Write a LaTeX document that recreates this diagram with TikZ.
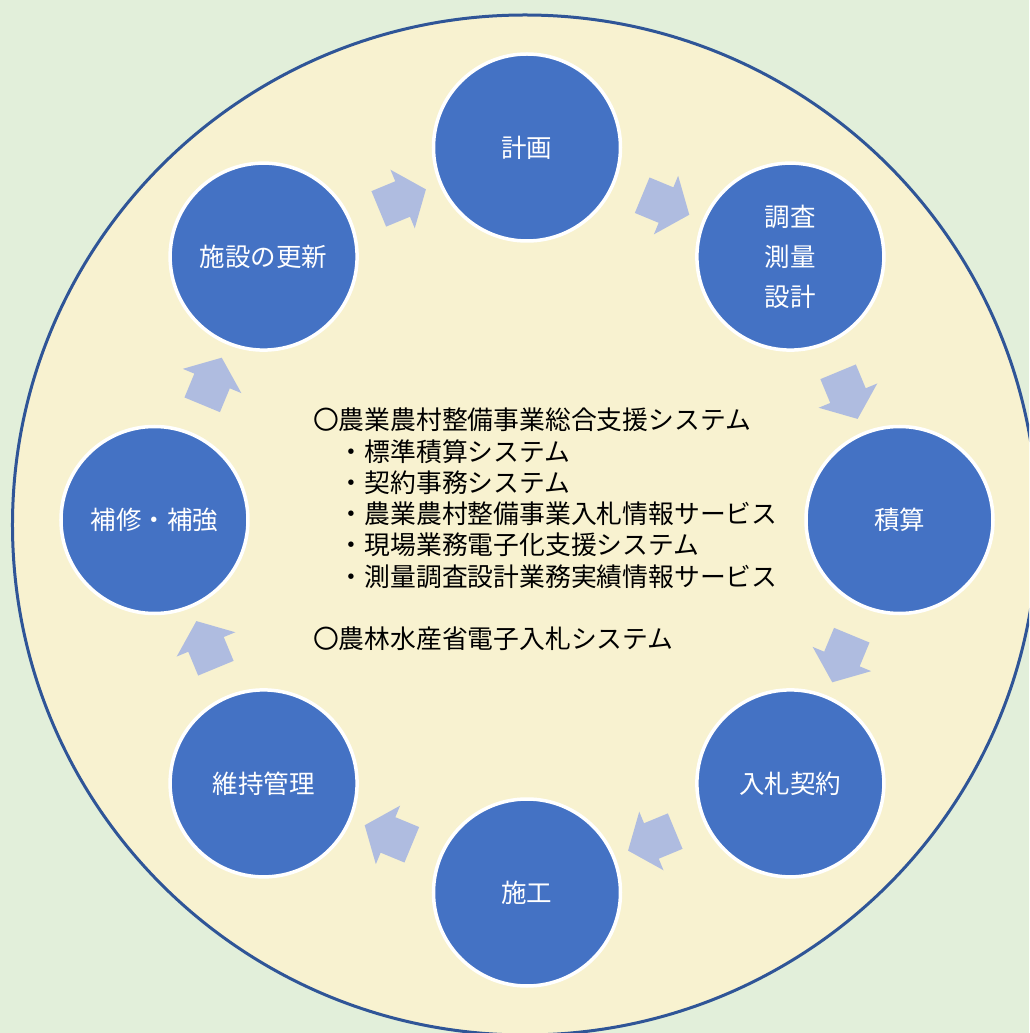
\documentclass[tikz,border=0pt]{standalone}
\usepackage{fontspec}
\newfontfamily\jpfont{Noto Sans CJK JP}
\usetikzlibrary{shapes.arrows}
\usetikzlibrary{positioning}
\definecolor{bggreen}{HTML}{E2EFDA}
\definecolor{ringcream}{HTML}{F8F2D0}
\definecolor{ringline}{HTML}{2F5597}
\definecolor{stageblue}{HTML}{4472C4}
\definecolor{flowblue}{HTML}{AFBCE0}
\tikzset{stage/.style = {circle, fill = stageblue, draw = white, line width = 3.5pt,
    minimum size = 187pt, inner sep = 0, text = white, align = center,
    font = \jpfont\fontsize{25.5pt}{40pt}\selectfont}}
\tikzset{flow/.style = {single arrow, fill = flowblue, inner xsep = 0, inner ysep = 19pt,
    sloped, allow upside down, minimum height = 51pt,
    single arrow head extend = 12.5pt, single arrow tip angle = 103}}
\tikzset{listtext/.style = {inner sep = 0, align = left,
    font = \jpfont\fontsize{25.8pt}{31.3pt}\selectfont}}

\begin{document}
\begin{tikzpicture}[x=1pt, y=1pt]
      \fill [bggreen] (-527, -513) rectangle (502, 520);
      \clip (-527, -513) rectangle (502, 520);
      \draw [fill = ringcream, draw = ringline, line width = 3pt]
        (-2, -5) ellipse [x radius = 512.5, y radius = 510];

      \node [stage] (plan) at (90:372.5) {計画};
      \node [stage] (survey) at (45:372.5) {調査\\測量\\設計};
      \node [stage] (estimate) at (0:372.5) {積算};
      \node [stage] (contract) at (-45:372.5) {入札契約};
      \node [stage] (construct) at (-90:372.5) {施工};
      \node [stage] (maintain) at (-135:372.5) {維持管理};
      \node [stage] (repair) at (180:372.5) {補修・補強};
      \node [stage] (renew) at (135:372.5) {施設の更新};

      \path (plan) -- (survey) node [flow, midway] {};
      \path (survey) -- (estimate) node [flow, midway] {};
      \path (estimate) -- (contract) node [flow, midway] {};
      \path (contract) -- (construct) node [flow, midway] {};
      \path (construct) -- (maintain) node [flow, midway] {};
      \path (maintain) -- (repair) node [flow, midway] {};
      \path (repair) -- (renew) node [flow, midway] {};
      \path (renew) -- (plan) node [flow, midway] {};

      \node [listtext, anchor = west] (systems) at (-214, -9.5)
        {〇農業農村整備事業総合支援システム\\
         　・標準積算システム\\
         　・契約事務システム\\
         　・農業農村整備事業入札情報サービス\\
         　・現場業務電子化支援システム\\
         　・測量調査設計業務実績情報サービス\\[31.3pt]
         〇農林水産省電子入札システム};
\end{tikzpicture}
\end{document}
